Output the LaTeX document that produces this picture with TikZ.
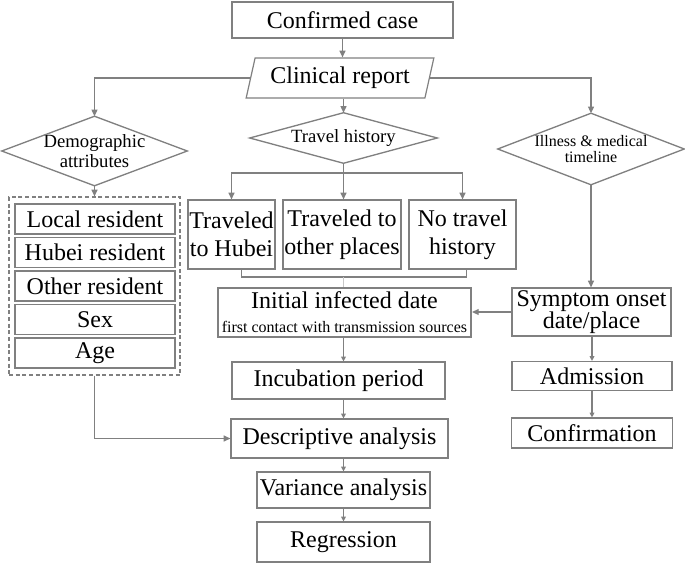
\documentclass[tikz,border=0pt]{standalone}
\usepackage{fontspec}
\setmainfont{Liberation Serif}
\usetikzlibrary{positioning,shapes.geometric,arrows.meta}
\definecolor{linegray}{HTML}{808080}
\definecolor{stubgray}{HTML}{C8C8C8}

\begin{document}
\begin{tikzpicture}[
    x=0.75pt, y=-0.75pt,
    font=\fontsize{18}{21}\selectfont,
    box/.style={draw=linegray, line width=0.9pt, align=center, inner sep=1pt, minimum height=27pt},
    item/.style={box, minimum width=120pt, minimum height=22.5pt},
    travelbox/.style={box, inner xsep=0pt, minimum height=51.75pt},
    decision/.style={align=center, inner sep=0pt},
    report/.style={draw=linegray, line width=0.9pt, trapezium, trapezium left angle=73, trapezium right angle=107, trapezium stretches=true, minimum width=141pt, minimum height=30pt, inner sep=1pt},
    group/.style={draw=linegray, dash pattern=on 3pt off 2pt, line width=0.9pt},
    line/.style={draw=linegray, line width=1pt},
    arrow/.style={line, -{Triangle[length=5pt, width=4.5pt]}},
    smallarrow/.style={line, line width=0.8pt, -{Triangle[length=3.5pt, width=3.5pt]}}
  ]
    \useasboundingbox (0,0) rectangle (685,563);

    \node[box, minimum width=165.75pt] (confirmed) at (342.5,20) {Confirmed case};
    \node[report] (clinical) at (340,78) {Clinical report};

    \node[decision, minimum width=138.75pt, minimum height=51.75pt, font=\fontsize{14}{15.5}\selectfont] (demo) at (94.5,151) {Demographic\\attributes};
    \node[decision, minimum width=140.25pt, minimum height=37.5pt, font=\fontsize{14}{16}\selectfont] (travel) at (343.5,138) {Travel history};
    \node[decision, minimum width=139.5pt, minimum height=53.25pt, font=\fontsize{12}{12.5}\selectfont] (illness) at (591,149) {Illness \& medical\\timeline};
    \foreach \n in {demo,travel,illness}
      \draw[line] (\n.north) -- (\n.east) -- (\n.south) -- (\n.west) -- cycle;

    % demographic group
    \node[group, minimum width=128.25pt, minimum height=133.5pt] (attrs) at (94.5,286) {};
    \foreach \name/\txt [count=\i from 0] in {local/Local resident, hubeires/Hubei resident, otherres/Other resident, sex/Sex, age/Age}
      \node[item] (\name) at (95,219+33.5*\i) {\txt};

    % travel history
    \node[travelbox, minimum width=65.25pt] (hubei) at (231.5,234.5) {Traveled\\to Hubei};
    \node[travelbox, minimum width=88.5pt] (other) at (342,234.5) {Traveled to\\other places};
    \node[travelbox, minimum width=80.25pt] (notravel) at (462.5,234.5) {No travel\\history};

    \node[box, line width=1.6pt, minimum width=189.75pt, minimum height=36.75pt] (initial) at (344.5,312.5)
      {Initial infected date\\[-3pt]{\fontsize{12}{13}\selectfont first contact with transmission sources}};

    % illness timeline
    \node[box, minimum width=119.25pt, minimum height=36pt, font=\fontsize{18}{16.5}\selectfont] (symptom) at (591.5,312) {Symptom onset\\date/place};
    \node[box, minimum width=120pt, minimum height=21.75pt] (admission) at (592,376) {Admission};
    \node[box, minimum width=120.75pt, minimum height=22.5pt] (confirmation) at (592,433) {Confirmation};

    % analysis
    \node[box, minimum width=159.75pt, minimum height=27.75pt] (incubation) at (338.5,380.5) {Incubation period};
    \node[box, minimum width=162.75pt, minimum height=29.25pt] (descriptive) at (339.5,438.5) {Descriptive analysis};
    \node[box, minimum width=129.75pt, minimum height=27pt] (variance) at (343.5,490) {Variance analysis};
    \node[box, minimum width=129.75pt, minimum height=30pt] (regression) at (343.5,542) {Regression};

    \draw[arrow] (confirmed.south) -- (confirmed.south |- clinical.north);
    \draw[arrow] (clinical.west) -| (demo.north);
    \draw[arrow] (clinical.east) -| (illness.north);
    \draw[arrow] (clinical.south -| travel.north) -- (travel.north);

    \coordinate (split) at (343.5,173);
    \draw[line] (travel.south) -- (split);
    \draw[arrow] (split) -| (hubei.north);
    \draw[arrow] (split) -- (split |- other.north);
    \draw[arrow] (split) -| (notravel.north);

    \coordinate (join) at (343.5,277);
    \draw[line, line width=0.8pt] ([xshift=7.5pt]hubei.south) |- (join) -| ([xshift=3pt]notravel.south);
    \draw[stubgray, line width=0.8pt] (join) -- (join |- initial.north);

    \draw[arrow] (illness.south) -- (illness.south |- symptom.north);
    \draw[arrow] (symptom.west) -- (symptom.west -| initial.east);
    \draw[smallarrow] (symptom.south -| admission) -- (admission.north);
    \draw[smallarrow] (admission.south) -- (confirmation.north);

    \foreach \a/\b in {initial/incubation, incubation/descriptive, descriptive/variance, variance/regression}
      \draw[smallarrow] (\a.south -| variance) -- (\b.north -| variance);

    \draw[arrow] (demo.south) -- (attrs.north);
    \draw[arrow] (attrs.south) |- (descriptive.west);
  \end{tikzpicture}
\end{document}
